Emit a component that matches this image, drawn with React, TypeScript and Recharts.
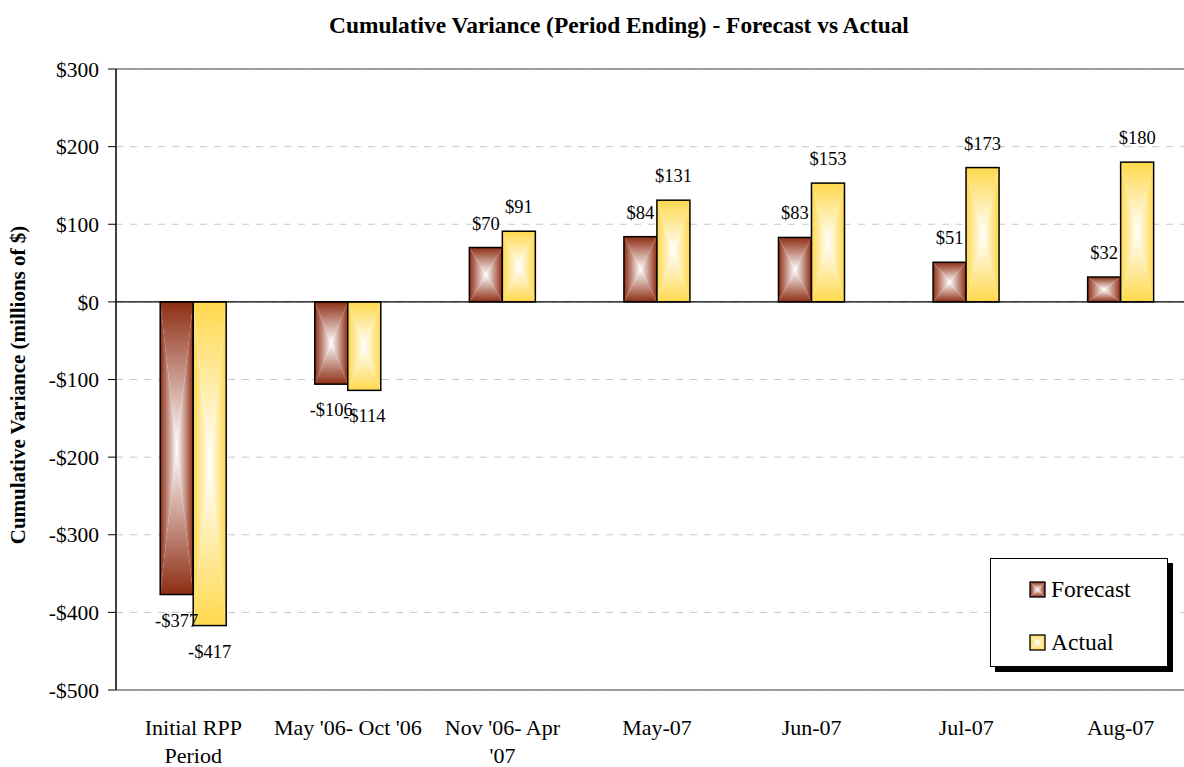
import React from 'react';
import {
  BarChart,
  Bar,
  XAxis,
  YAxis,
  CartesianGrid,
  ReferenceLine,
  LabelList,
} from 'recharts';

const categories = [
  'Initial RPP\nPeriod',
  "May '06- Oct '06",
  "Nov '06- Apr\n'07",
  'May-07',
  'Jun-07',
  'Jul-07',
  'Aug-07',
];
const forecast = [-377, -106, 70, 84, 83, 51, 32];
const actual = [-417, -114, 91, 131, 153, 173, 180];
const yTicks = [300, 200, 100, 0, -100, -200, -300, -400, -500];

const FONT = '"Liberation Serif", "Times New Roman", serif';

const data = categories.map((name, i) => ({
  name,
  forecast: forecast[i],
  actual: actual[i],
}));

const money = (v: number) => (v < 0 ? `-$${Math.abs(v)}` : `$${v}`);

// four-sided "from center" gradient, like the old Excel fill
function GradDefs({ id, edge }: { id: string; edge: string }) {
  const stops = (
    <>
      <stop offset="0" stopColor={edge} />
      <stop offset="1" stopColor="#ffffff" />
    </>
  );
  return (
    <>
      <linearGradient id={`${id}L`} x1="0" y1="0" x2="1" y2="0">{stops}</linearGradient>
      <linearGradient id={`${id}R`} x1="1" y1="0" x2="0" y2="0">{stops}</linearGradient>
      <linearGradient id={`${id}T`} x1="0" y1="0" x2="0" y2="1">{stops}</linearGradient>
      <linearGradient id={`${id}B`} x1="0" y1="1" x2="0" y2="0">{stops}</linearGradient>
    </>
  );
}

function GradRect({ x, y, w, h, id, sw = 1.5 }: any) {
  const cx = x + w / 2;
  const cy = y + h / 2;
  return (
    <g>
      <polygon points={`${x},${y} ${cx},${cy} ${x},${y + h}`} fill={`url(#${id}L)`} />
      <polygon points={`${x + w},${y} ${cx},${cy} ${x + w},${y + h}`} fill={`url(#${id}R)`} />
      <polygon points={`${x},${y} ${x + w},${y} ${cx},${cy}`} fill={`url(#${id}T)`} />
      <polygon points={`${x},${y + h} ${x + w},${y + h} ${cx},${cy}`} fill={`url(#${id}B)`} />
      <rect x={x} y={y} width={w} height={h} fill="none" stroke="#000" strokeWidth={sw} />
    </g>
  );
}

const makeShape = (id: string) => (props: any) => {
  let { x, y, width, height } = props;
  if (height < 0) {
    y += height;
    height = -height;
  }
  return <GradRect x={x} y={y} w={width} h={height} id={id} />;
};

const ValueLabel = (props: any) => {
  const { x, y, width, height, value } = props;
  const cx = x + width / 2;
  // recharts may hand negative heights for bars below zero
  const top = Math.min(y, y + height);
  const bottom = Math.max(y, y + height);
  const ty = value >= 0 ? top - 24 : bottom + 26;
  return (
    <text
      x={cx}
      y={ty}
      textAnchor="middle"
      dominantBaseline="central"
      fontFamily={FONT}
      fontSize={18.5}
      fill="#000"
    >
      {money(value)}
    </text>
  );
};

const CatTick = (props: any) => {
  const { x, y, payload } = props;
  const lines = String(payload.value).split('\n');
  return (
    <g>
      {lines.map((ln, i) => (
        <text
          key={i}
          x={x}
          y={y + 29 + i * 28}
          textAnchor="middle"
          dominantBaseline="central"
          fontFamily={FONT}
          fontSize={22}
          fill="#000"
        >
          {ln}
        </text>
      ))}
    </g>
  );
};

const LegendBox = () => {
  const items = [
    { label: 'Forecast', id: 'lgF', edge: '#8e2d14' },
    { label: 'Actual', id: 'lgA', edge: '#ffd84c' },
  ];
  return (
    <div
      style={{
        position: 'absolute',
        left: 990,
        top: 558,
        width: 178,
        height: 109,
        boxSizing: 'border-box',
        border: '1px solid #000',
        background: '#fff',
        boxShadow: '5px 5px 0 #000',
        fontFamily: FONT,
        fontSize: 23.5,
        zIndex: 3,
      }}
    >
      {items.map((it, i) => (
        <div
          key={it.label}
          style={{
            position: 'absolute',
            left: 38,
            top: 16 + i * 53,
            display: 'flex',
            alignItems: 'center',
            height: 28,
          }}
        >
          <svg width={17} height={17} style={{ marginRight: 5 }}>
            <defs>
              <GradDefs id={it.id} edge={it.edge} />
            </defs>
            <GradRect x={1} y={1} w={15} h={15} id={it.id} sw={1.3} />
          </svg>
          <span>{it.label}</span>
        </div>
      ))}
    </div>
  );
};

export default function App() {
  return (
    <div
      style={{
        position: 'absolute',
        left: 0,
        top: 0,
        width: 1184,
        height: 767,
        overflow: 'hidden',
        background: '#fff',
      }}
    >
      <div
        style={{
          position: 'absolute',
          left: 0,
          width: 1238,
          top: 12,
          textAlign: 'center',
          fontFamily: FONT,
          fontWeight: 'bold',
          fontSize: 23.4,
          zIndex: 2,
        }}
      >
        Cumulative Variance (Period Ending) - Forecast vs Actual
      </div>
      <BarChart
        width={1198}
        height={767}
        data={data}
        margin={{ top: 69, right: 0, bottom: 0, left: 0 }}
        barCategoryGap="28.6%"
        barGap={0}
      >
        <defs>
          <GradDefs id="gF" edge="#8e2d14" />
          <GradDefs id="gA" edge="#ffd84c" />
        </defs>
        <CartesianGrid vertical={false} stroke="#c8c8c8" strokeDasharray="7 7" />
        <XAxis
          dataKey="name"
          height={77}
          interval={0}
          axisLine={{ stroke: '#808080', strokeWidth: 1.5 }}
          tickLine={false}
          tick={<CatTick />}
        />
        <YAxis
          width={116}
          domain={[-500, 300]}
          ticks={yTicks}
          interval={0}
          tickFormatter={money}
          axisLine={{ stroke: '#000', strokeWidth: 1.5 }}
          tickLine={{ stroke: '#000' }}
          tickSize={8}
          tickMargin={9}
          tick={{ fontFamily: FONT, fontSize: 21.5, fill: '#000' }}
          label={{
            content: () => (
              <text
                x={18}
                y={385}
                transform="rotate(-90 18 385)"
                textAnchor="middle"
                dominantBaseline="central"
                fontFamily={FONT}
                fontWeight="bold"
                fontSize={21}
                fill="#000"
              >
                Cumulative Variance (millions of $)
              </text>
            ),
          }}
        />
        <ReferenceLine y={300} stroke="#808080" strokeWidth={1.5} />
        <Bar dataKey="forecast" name="Forecast" shape={makeShape('gF')} isAnimationActive={false}>
          <LabelList dataKey="forecast" content={<ValueLabel />} />
        </Bar>
        <Bar dataKey="actual" name="Actual" shape={makeShape('gA')} isAnimationActive={false}>
          <LabelList dataKey="actual" content={<ValueLabel />} />
        </Bar>
        <ReferenceLine y={0} stroke="#000" strokeWidth={1.2} />
      </BarChart>
      <LegendBox />
    </div>
  );
}
